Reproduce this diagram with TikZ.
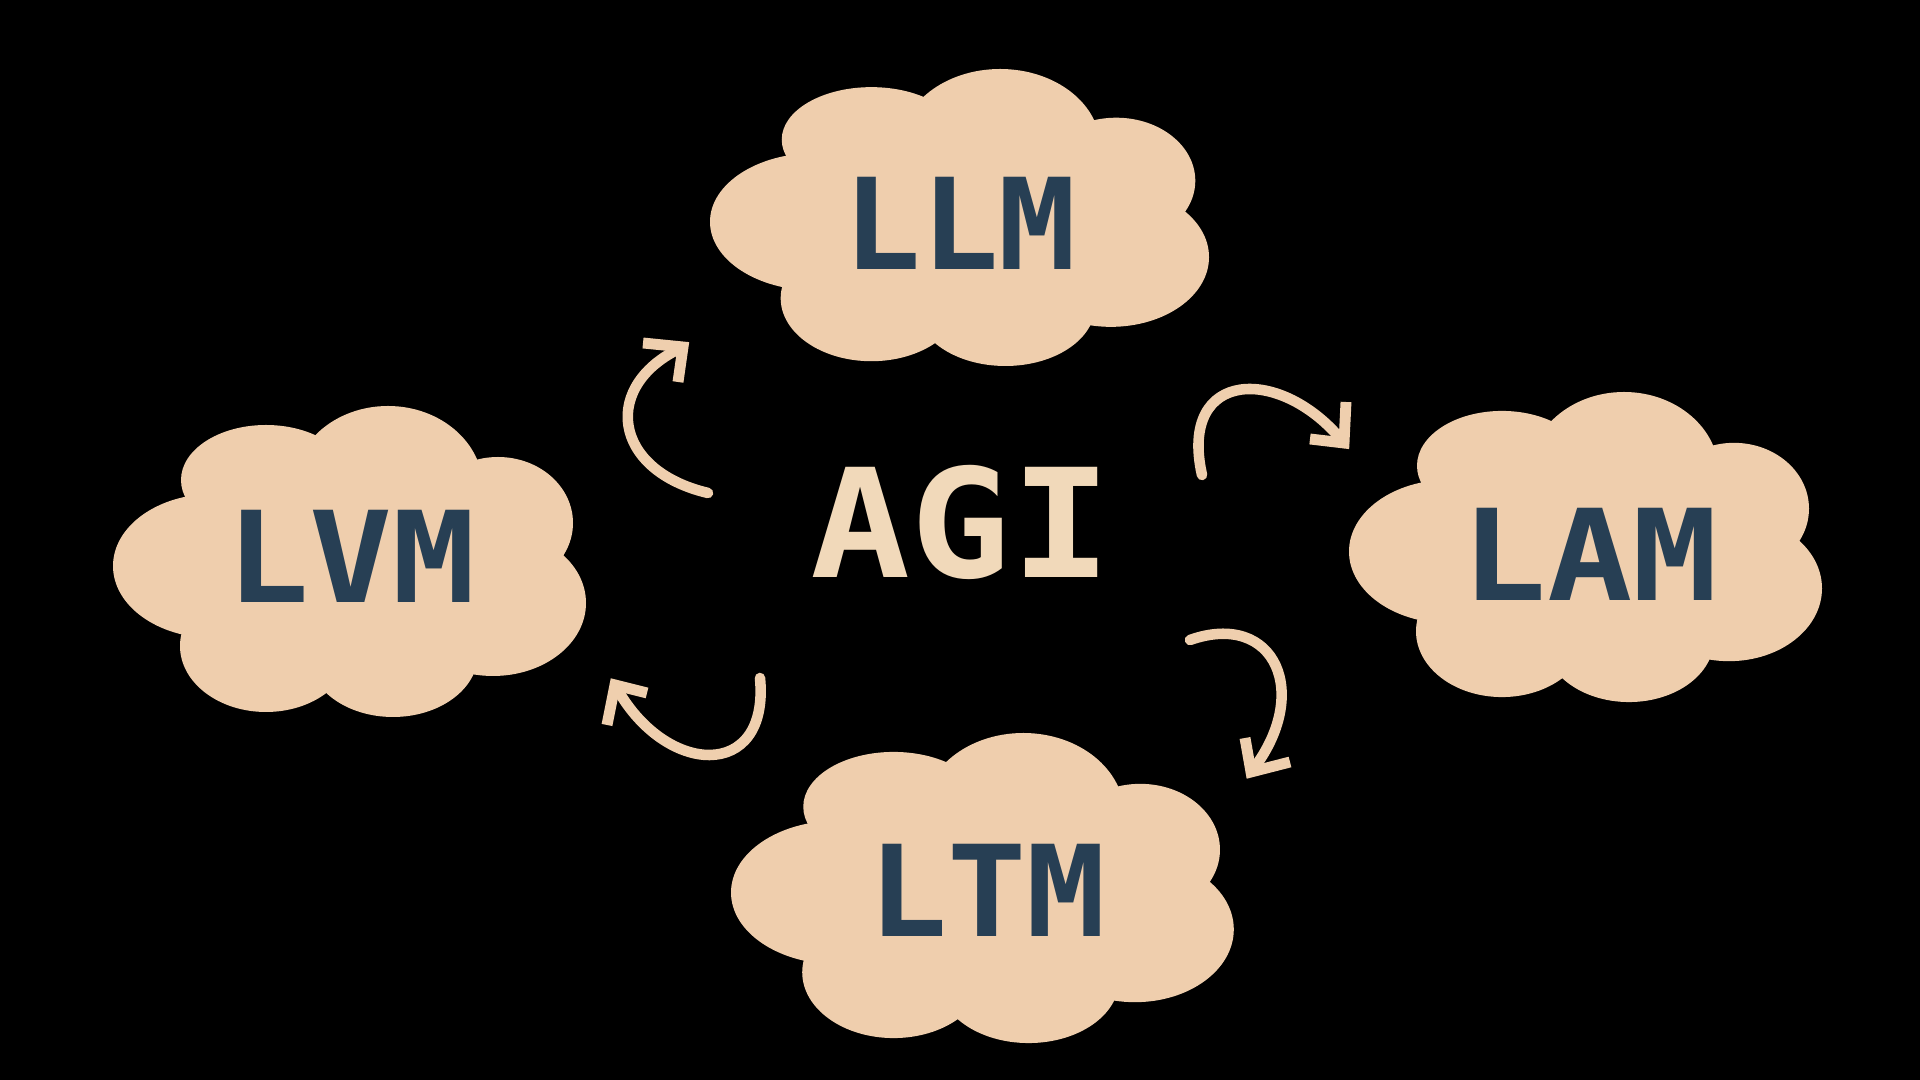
\documentclass[tikz,border=0pt]{standalone}
\usepackage{fontspec}
\newfontfamily\handfont{DejaVu Sans Mono}
\definecolor{cloudc}{HTML}{EFCEAD}
\definecolor{agic}{HTML}{F1D9BA}
\definecolor{arrowc}{HTML}{EFCFAE}
\definecolor{inkc}{HTML}{273F54}
\newcommand\mycloud{%
  \fill[cloudc] (100,160) ellipse [x radius=100, y radius=72];
  \fill[cloudc] (153,74) ellipse [x radius=85, y radius=55];
  \fill[cloudc] (275,82) ellipse [x radius=95, y radius=82];
  \fill[cloudc] (385,117) ellipse [x radius=75, y radius=66];
  \fill[cloudc] (380,197) ellipse [x radius=93, y radius=73];
  \fill[cloudc] (280,248) ellipse [x radius=85, y radius=63];
  \fill[cloudc] (153,240) ellipse [x radius=86, y radius=66];
  \fill[cloudc] (80,80) rectangle (390,260);}
\begin{document}
\begin{tikzpicture}[x=0.01cm,y=-0.01cm,
  cloudlabel/.style={inner sep=0pt, text=inkc, font=\handfont\bfseries\fontsize{36}{40}\selectfont},
  centerlabel/.style={inner sep=0pt, text=agic, font=\handfont\bfseries\fontsize{43}{48}\selectfont},
  arrowline/.style={draw=arrowc, line width=3pt, line cap=round, line join=round},
  armline/.style={draw=arrowc, line width=3.1pt, line cap=butt, line join=miter}]
\fill[black] (0,0) rectangle (1920,1080);
\useasboundingbox (0,0) rectangle (1920,1080);
% clouds
\begin{scope}[shift={(710,69)}, xscale=1.055, yscale=0.955]\mycloud\end{scope}
\begin{scope}[shift={(113,406)}]\mycloud\end{scope}
\begin{scope}[shift={(1349,392)}, yscale=0.997]\mycloud\end{scope}
\begin{scope}[shift={(731,733)}, xscale=1.063, yscale=0.997]\mycloud\end{scope}
% labels
\node[cloudlabel, xscale=1.02] (llm) at (960,223) {LLM};
\node[cloudlabel, xscale=1.09] (lvm) at (351,556) {LVM};
\node[cloudlabel, xscale=1.12] (lam) at (1590,554) {LAM};
\node[cloudlabel, xscale=1.04] (ltm) at (987,890) {LTM};
\node[centerlabel, xscale=1.1] (agi) at (961,522) {AGI};
% arrow 1 (top-left)
\coordinate (a1tail) at (708,493);
\coordinate (a1tip) at (683,347);
\coordinate (a1armA) at (643,343);
\coordinate (a1armB) at (678,382);
\draw[arrowline] (a1tail) .. controls (611,470) and (601,384) .. (a1tip);
\draw[armline] (a1armA) -- (a1tip) -- (a1armB);
% arrow 2 (top-right)
\coordinate (a2tail) at (1202,475);
\coordinate (a2tip) at (1344,443);
\coordinate (a2armA) at (1310,439);
\coordinate (a2armB) at (1346,402);
\draw[arrowline] (a2tail) .. controls (1178,368) and (1282,365) .. (a2tip);
\draw[armline] (a2armA) -- (a2tip) -- (a2armB);
% arrow 3 (bottom-right)
\coordinate (a3tail) at (1190,640);
\coordinate (a3tip) at (1251,772);
\coordinate (a3armA) at (1245,738);
\coordinate (a3armB) at (1290,762);
\draw[arrowline] (a3tail) .. controls (1275,610) and (1313,694) .. (a3tip);
\draw[armline] (a3armA) -- (a3tip) -- (a3armB);
% arrow 4 (bottom-left)
\coordinate (a4tail) at (760,678);
\coordinate (a4tip) at (615,685);
\coordinate (a4armA) at (647,693);
\coordinate (a4armB) at (607,725);
\draw[arrowline] (a4tail) .. controls (770,782) and (664,777) .. (a4tip);
\draw[armline] (a4armA) -- (a4tip) -- (a4armB);
\end{tikzpicture}
\end{document}
